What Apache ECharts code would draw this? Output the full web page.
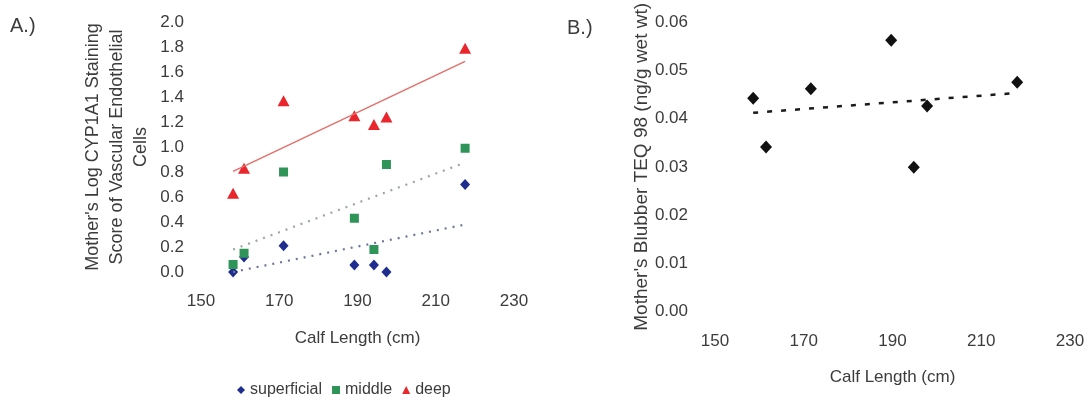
<!DOCTYPE html>
<html>
<head>
<meta charset="utf-8">
<script src="https://cdn.jsdelivr.net/npm/echarts@6/dist/echarts.min.js"></script>
<style>
html,body{margin:0;padding:0;background:#fff;}
#chart{width:1090px;height:398px;}
</style>
</head>
<body>
<div id="chart"></div>
<script>
// ---- Panel A data ----
var calfLengthA = [158.2, 161.0, 171.1, 189.2, 194.2, 197.4, 217.5];
var superficialVals = [0.00, 0.12, 0.21, 0.056, 0.056, 0.00, 0.70];
var middleVals = [0.06, 0.15, 0.80, 0.43, 0.18, 0.86, 0.99];
var deepVals = [0.63, 0.83, 1.37, 1.25, 1.18, 1.24, 1.79];
// trendline endpoints [x, y]
var superficialTrend = [[158.2, 0.00], [217.5, 0.38]];
var middleTrend = [[158.2, 0.18], [217.5, 0.875]];
var deepTrend = [[158.2, 0.805], [217.5, 1.685]];
var seriesNamesA = ['superficial', 'middle', 'deep'];

// ---- Panel B data ----
var calfLengthB = [158.6, 161.5, 171.6, 189.7, 194.8, 197.8, 218.1];
var teqVals = [0.0442, 0.0341, 0.0462, 0.0562, 0.0299, 0.0426, 0.0475];
var teqTrend = [[158.6, 0.0412], [218.1, 0.0453]];

// ---- axis ticks ----
var xMin = 150, xMax = 230, xStep = 20;
var yAMin = 0, yAMax = 2.0, yAStep = 0.2;
var yBMin = 0, yBMax = 0.06, yBStep = 0.01;

function pairs(xs, ys) { return xs.map(function (x, i) { return [x, ys[i]]; }); }

var FONT = '"Liberation Sans", Arial, sans-serif';
var TXT = '#3c3c3c';
var COL_BLUE = '#1f2d8f', COL_GREEN = '#2f9457', COL_RED = '#e8262c';

var chart = echarts.init(document.getElementById('chart'));
var axisLbl = { color: TXT, fontSize: 17, fontFamily: FONT };

chart.setOption({
  animation: false,
  backgroundColor: '#fff',
  textStyle: { fontFamily: FONT, color: TXT },
  grid: [
    { left: 201, right: 576, top: 22, bottom: 126 },
    { left: 715, right: 20, top: 22, bottom: 86.3 }
  ],
  xAxis: [
    { gridIndex: 0, type: 'value', min: xMin, max: xMax, interval: xStep,
      axisLine: { show: false }, axisTick: { show: false }, splitLine: { show: false },
      axisLabel: Object.assign({ margin: 21 }, axisLbl),
      name: 'Calf Length (cm)', nameLocation: 'middle', nameGap: 58,
      nameTextStyle: { color: TXT, fontSize: 17, fontFamily: FONT } },
    { gridIndex: 1, type: 'value', min: xMin, max: xMax, interval: xStep,
      axisLine: { show: false }, axisTick: { show: false }, splitLine: { show: false },
      axisLabel: Object.assign({ margin: 21 }, axisLbl),
      name: 'Calf Length (cm)', nameLocation: 'middle', nameGap: 57,
      nameTextStyle: { color: TXT, fontSize: 17, fontFamily: FONT } }
  ],
  yAxis: [
    { gridIndex: 0, type: 'value', min: yAMin, max: yAMax, interval: yAStep,
      axisLine: { show: false }, axisTick: { show: false }, splitLine: { show: false },
      axisLabel: Object.assign({ margin: 17, formatter: function (v) { return v.toFixed(1); } }, axisLbl),
      name: "Mother's Log CYP1A1 Staining\nScore of Vascular Endothelial\nCells",
      nameLocation: 'middle', nameRotate: 90, nameGap: 48,
      nameTextStyle: { color: TXT, fontSize: 18, fontFamily: FONT, lineHeight: 24, align: 'center' } },
    { gridIndex: 1, type: 'value', min: yBMin, max: yBMax, interval: yBStep,
      axisLine: { show: false }, axisTick: { show: false }, splitLine: { show: false },
      axisLabel: Object.assign({ margin: 27, formatter: function (v) { return v.toFixed(2); } }, axisLbl),
      name: "Mother's Blubber TEQ 98 (ng/g wet wt)",
      nameLocation: 'middle', nameRotate: 90, nameGap: 53,
      nameTextStyle: { color: TXT, fontSize: 19, fontFamily: FONT } }
  ],
  legend: {
    data: seriesNamesA,
    left: 232, top: 377,
    itemWidth: 8, itemHeight: 8, itemGap: 10,
    textStyle: { color: TXT, fontSize: 16, fontFamily: FONT }
  },
  graphic: [
    { type: 'text', left: 10, top: 16, style: { text: 'A.)', fontSize: 20, fontFamily: FONT, fill: TXT } },
    { type: 'text', left: 567, top: 18, style: { text: 'B.)', fontSize: 20, fontFamily: FONT, fill: TXT } }
  ],
  series: [
    { name: 'superficialTrend', type: 'line', xAxisIndex: 0, yAxisIndex: 0, data: superficialTrend,
      symbol: 'none', silent: true, lineStyle: { color: '#6d7898', width: 2.2, type: [2, 6] } },
    { name: 'middleTrend', type: 'line', xAxisIndex: 0, yAxisIndex: 0, data: middleTrend,
      symbol: 'none', silent: true, lineStyle: { color: '#9aa79f', width: 2.2, type: [2, 6] } },
    { name: 'deepTrend', type: 'line', xAxisIndex: 0, yAxisIndex: 0, data: deepTrend,
      symbol: 'none', silent: true, lineStyle: { color: '#e4706c', width: 1.5, type: 'solid' } },
    { name: seriesNamesA[0], type: 'scatter', xAxisIndex: 0, yAxisIndex: 0,
      data: pairs(calfLengthA, superficialVals), symbol: 'diamond', symbolSize: [10, 11],
      itemStyle: { color: COL_BLUE, opacity: 1 } },
    { name: seriesNamesA[1], type: 'scatter', xAxisIndex: 0, yAxisIndex: 0,
      data: pairs(calfLengthA, middleVals), symbol: 'rect', symbolSize: 9,
      itemStyle: { color: COL_GREEN, opacity: 1 } },
    { name: seriesNamesA[2], type: 'scatter', xAxisIndex: 0, yAxisIndex: 0,
      data: pairs(calfLengthA, deepVals), symbol: 'triangle', symbolSize: [12, 11],
      itemStyle: { color: COL_RED, opacity: 1 } },
    { name: 'teqTrend', type: 'line', xAxisIndex: 1, yAxisIndex: 1, data: teqTrend,
      symbol: 'none', silent: true, lineStyle: { color: '#1a1a1a', width: 2.5, type: [5, 9] } },
    { name: 'TEQ', type: 'scatter', xAxisIndex: 1, yAxisIndex: 1,
      data: pairs(calfLengthB, teqVals), symbol: 'diamond', symbolSize: [12, 13],
      itemStyle: { color: '#111', opacity: 1 } }
  ]
});
</script>
</body>
</html>
